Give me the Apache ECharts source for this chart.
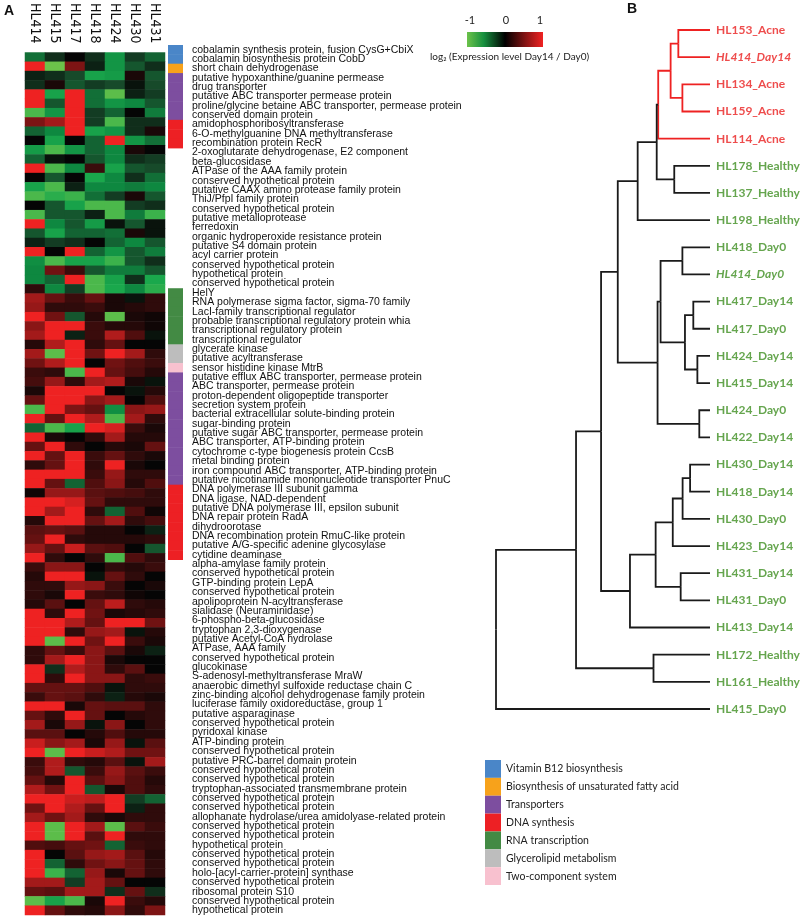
<!DOCTYPE html>
<html><head><meta charset="utf-8">
<script src="https://cdn.jsdelivr.net/npm/echarts@6/dist/echarts.min.js"></script>
<style>html,body{margin:0;padding:0;background:#fff}#c{width:800px;height:919px}</style>
</head><body><div id="c"></div>
<script>
// ---------- DATA ----------
const samples = ['HL414','HL415','HL417','HL418','HL424','HL430','HL431'];
const genes = [
'cobalamin synthesis protein, fusion CysG+CbiX','cobalamin biosynthesis protein CobD','short chain dehydrogenase',
'putative hypoxanthine/guanine permease','drug transporter','putative ABC transporter permease protein',
'proline/glycine betaine ABC transporter, permease protein','conserved domain protein','amidophosphoribosyltransferase',
'6-O-methylguanine DNA methyltransferase','recombination protein RecR','2-oxoglutarate dehydrogenase, E2 component',
'beta-glucosidase','ATPase of the AAA family protein','conserved hypothetical protein',
'putative CAAX amino protease family protein','ThiJ/PfpI family protein','conserved hypothetical protein',
'putative metalloprotease','ferredoxin','organic hydroperoxide resistance protein','putative S4 domain protein',
'acyl carrier protein','conserved hypothetical protein','hypothetical protein','conserved hypothetical protein',
'HelY','RNA polymerase sigma factor, sigma-70 family','LacI-family transcriptional regulator',
'probable transcriptional regulatory protein whia','transcriptional regulatory protein','transcriptional regulator',
'glycerate kinase','putative acyltransferase','sensor histidine kinase MtrB',
'putative efflux ABC transporter, permease protein','ABC transporter, permease protein','proton-dependent oligopeptide transporter',
'secretion system protein','bacterial extracellular solute-binding protein','sugar-binding protein',
'putative sugar ABC transporter, permease protein','ABC transporter, ATP-binding protein','cytochrome c-type biogenesis protein CcsB',
'metal binding protein','iron compound ABC transporter, ATP-binding protein','putative nicotinamide mononucleotide transporter PnuC',
'DNA polymerase III subunit gamma','DNA ligase, NAD-dependent','putative DNA polymerase III, epsilon subunit',
'DNA repair protein RadA','dihydroorotase','DNA recombination protein RmuC-like protein',
'putative A/G-specific adenine glycosylase','cytidine deaminase','alpha-amylase family protein',
'conserved hypothetical protein','GTP-binding protein LepA','conserved hypothetical protein',
'apolipoprotein N-acyltransferase','sialidase (Neuraminidase)','6-phospho-beta-glucosidase',
'tryptophan 2,3-dioxygenase','putative Acetyl-CoA hydrolase','ATPase, AAA family',
'conserved hypothetical protein','glucokinase','S-adenosyl-methyltransferase MraW',
'anaerobic dimethyl sulfoxide reductase chain C','zinc-binding alcohol dehydrogenase family protein','luciferase family oxidoreductase, group 1',
'putative asparaginase','conserved hypothetical protein','pyridoxal kinase','ATP-binding protein',
'conserved hypothetical protein','putative PRC-barrel domain protein','conserved hypothetical protein',
'conserved hypothetical protein','tryptophan-associated transmembrane protein','conserved hypothetical protein',
'conserved hypothetical protein','allophanate hydrolase/urea amidolyase-related protein','conserved hypothetical protein',
'conserved hypothetical protein','hypothetical protein','conserved hypothetical protein','conserved hypothetical protein',
'holo-[acyl-carrier-protein] synthase','conserved hypothetical protein','ribosomal protein S10',
'conserved hypothetical protein','hypothetical protein'
];
// functional group of each row ('' = none)
const rowGroup = [
'B12','B12','FA','TR','TR','TR','TR','TR','DNA','DNA','DNA',
'','','','','','','','','','','','','','','',
'RNA','RNA','RNA','RNA','RNA','RNA','GL','GL','TC',
'TR','TR','TR','TR','TR','TR','TR','TR','TR','TR','TR','TR',
'DNA','DNA','DNA','DNA','DNA','DNA','DNA','DNA',
'','','','','','','','','','','','','','','','','','','','','','','','','','','','','','','','','','','','','',''
];
const groupKeys = ['B12','FA','TR','DNA','RNA','GL','TC'];
const groupNames = ['Vitamin B12 biosynthesis','Biosynthesis of unsaturated fatty acid','Transporters','DNA synthesis','RNA transcription','Glycerolipid metabolism','Two-component system'];
const groupColors = ['#4a86c8','#f7a21b','#7d4e9f','#ed2024','#438a44','#bdbdbd','#f8c1cf'];
// log2(Day14/Day0), one row per gene, columns = samples
const expr = [
[-0.4,-0.15,0,-0.15,-0.6,-0.2,-0.35],
[1,-1,0.55,-0.1,-0.6,-0.3,-0.15],
[-0.1,-0.15,-0.25,-0.7,-0.65,0.1,-0.3],
[-0.15,0.1,-0.3,-0.2,-0.25,-0.05,-0.25],
[1,-0.7,1,-0.4,-0.95,-0.1,-0.2],
[1,-0.3,1,-0.4,-0.6,-0.5,-0.3],
[-0.9,-0.6,1,-0.2,-0.35,0,-0.45],
[0.55,0.7,1,-0.2,-0.9,-0.15,-0.15],
[-0.35,-0.5,1,-0.7,-0.6,-0.15,0.1],
[0,-0.7,0,-0.35,1,-0.6,-0.4],
[-0.65,-0.9,-0.6,-0.35,-0.5,0.1,0],
[-0.35,-0.05,0,-0.3,-0.5,-0.15,-0.2],
[1,-0.9,-0.5,0.25,-0.7,-0.3,-0.25],
[0,-0.3,0,-0.75,-0.5,-0.15,-0.4],
[-0.7,-0.9,-0.1,-0.5,-0.5,-0.45,-0.5],
[-0.9,-0.8,-0.85,-0.4,-0.2,0.1,-0.3],
[0,-0.3,-0.7,-0.9,-0.9,-0.2,-0.15],
[-0.9,-0.3,-0.3,-0.1,-0.9,-0.45,-0.85],
[1,-0.5,-0.3,-0.65,-0.05,-0.3,-0.05],
[-0.3,-0.7,-0.35,-0.35,-0.4,0.1,-0.05],
[-0.1,-0.2,-0.15,0,-0.35,-0.5,-0.3],
[1,0,1,-0.35,-0.6,-0.3,-0.45],
[-0.55,-0.9,-0.7,-0.7,-0.85,-0.3,-0.15],
[-0.5,0.5,0.25,-0.3,-0.45,-0.45,-0.3],
[-0.5,-0.35,1,-0.9,-0.7,-0.15,-0.75],
[0.2,-0.5,-0.2,-0.9,-0.75,-0.5,-0.8],
[0.7,0.45,0.25,0.45,0.1,-0.05,0.2],
[0.65,0.2,0.2,0.25,0.1,0.15,0.2],
[1,0.5,-0.3,0.15,-0.95,0.1,0.05],
[0.6,1,1,0.25,0.15,0.15,0.05],
[0.7,1,-0.1,0.25,0.75,0.35,-0.05],
[0.15,0.75,1,0.2,0.45,0,0],
[0.7,-0.95,1,0.5,1,0.7,0.2],
[0.5,0.75,1,0,0.5,0.35,0.25],
[0.25,0.2,-0.9,1,0.45,0.3,0.15],
[0.3,0.65,0.2,0.7,0.75,0.1,-0.05],
[0.1,1,1,1,0,-0.05,0.15],
[0.45,1,1,0.6,0.7,0,0.35],
[-0.9,1,0.55,0.45,-0.55,0.6,0.65],
[1,0.45,1,0.75,-0.9,0.7,0.2],
[-0.35,-0.9,-0.7,1,0.9,0.25,0.1],
[1,0.1,0,0.2,0.7,0.15,0.15],
[0.45,1,0.2,0,0.15,0.1,0.45],
[1,0.45,1,0.25,0.45,0.2,0.1],
[0.2,0.45,1,0.2,1,0.1,0],
[1,1,1,0.25,0.65,0.2,0.2],
[1,0.45,-0.35,0.35,0.6,0.15,0.35],
[0.05,0.65,0.65,0.4,0.35,0.3,0.2],
[1,1,0.9,0.45,0.2,0.2,0.2],
[1,0.7,1,0.2,-0.35,0.35,0.05],
[0.15,1,1,0.45,0.7,0.2,0.3],
[0.4,0.45,0.4,0.15,0.15,0,-0.1],
[0.45,1,0.2,0.15,0.15,0.15,0.2],
[0.65,0.45,0.85,0.4,0.35,0,-0.3],
[1,0.2,0,0.2,-0.9,0.35,0.2],
[0.25,0.6,0.6,0,0.2,0.15,0.25],
[0.15,1,1,-0.05,0.45,0.2,0],
[0.2,0.2,0.65,0.6,0.25,0,0.1],
[0.2,0.1,1,0.25,0.2,0.05,0],
[0.15,0.4,0,0.45,0.8,0.2,0.15],
[1,0.2,1,0.5,0.1,0.15,0.2],
[1,1,0.75,0.45,1,1,0.5],
[1,1,0.2,0.65,0.7,-0.05,0.15],
[1,-0.95,1,0.5,1,0.25,0.1],
[0.2,0.45,0.25,0.6,0.4,0.1,-0.1],
[0.2,0.7,1,0.6,0.1,0,0],
[1,-0.15,0.75,0.6,0.2,0.4,0],
[1,0.2,1,0.6,0.6,0.2,0.25],
[0.45,0.45,0.45,0.35,-0.05,0.2,0.2],
[0.25,0.45,0.4,0.2,-0.1,0.15,0.1],
[1,1,0.1,0.45,0.4,0.4,0.2],
[0.45,0.2,1,0.45,0,0.15,0.2],
[0.7,0.1,0.65,-0.05,0.6,0,0.2],
[0.4,0.4,0,0.15,0.35,0.15,0.15],
[0.85,0.6,0.7,0.1,0.65,-0.05,0.4],
[1,-0.95,1,0.85,0.75,0.5,0.5],
[0.25,0.75,0.2,0.15,0.4,-0.05,0.7],
[0.3,0.75,-0.3,0.25,0.65,0.4,0.25],
[0.45,0.15,1,0.4,0.6,0.35,0.15],
[0.75,0.5,1,-0.3,0.1,0.35,0.2],
[1,1,0.85,0.8,1,-0.2,-0.35],
[0.5,1,0.75,0.45,1,-0.1,0.2],
[0.7,0.5,0.7,0.2,0.1,0.2,0.2],
[1,-0.95,1,0.7,-0.95,0.4,0.25],
[1,-0.95,1,0.4,1,0.2,0.2],
[0.35,0.3,0.45,0.5,-0.35,0.25,0.2],
[1,0,0.4,0.65,0.7,0.4,0.15],
[1,-0.35,0.2,0.5,0.6,0.45,0.2],
[1,-0.85,-0.35,0.65,0.1,0.45,0.2],
[0.7,0.7,-0.2,0.7,0.45,0,0],
[0.45,0.4,0.7,0.7,-0.15,0.45,-0.15],
[-0.95,-0.7,-0.9,0.1,1,0.25,0.15],
[1,0.45,0.2,0.15,0.6,0.2,0.55]
];
const colorTicks = ['-1','0','1'];
// dendrogram
const leaves = ['HL153_Acne','HL414_Day14','HL134_Acne','HL159_Acne','HL114_Acne','HL178_Healthy','HL137_Healthy','HL198_Healthy',
'HL418_Day0','HL414_Day0','HL417_Day14','HL417_Day0','HL424_Day14','HL415_Day14','HL424_Day0','HL422_Day14',
'HL430_Day14','HL418_Day14','HL430_Day0','HL423_Day14','HL431_Day14','HL431_Day0','HL413_Day14','HL172_Healthy','HL161_Healthy','HL415_Day0'];
const acneLeaves = ['HL153_Acne','HL414_Day14','HL134_Acne','HL159_Acne','HL114_Acne'];
const italicLeaves = ['HL414_Day14','HL414_Day0'];
// [node, childA, childB, height]
const merges = [
['m1','HL153_Acne','HL414_Day14',0.148],
['m2','HL134_Acne','HL159_Acne',0.129],
['m3','m1','m2',0.184],
['m4','m3','HL114_Acne',0.242],
['m5','HL178_Healthy','HL137_Healthy',0.167],
['m6','m4','m5',0.249],
['m7','m6','HL198_Healthy',0.338],
['m8','HL418_Day0','HL414_Day0',0.129],
['m9','HL417_Day14','HL417_Day0',0.078],
['m10','HL424_Day14','HL415_Day14',0.059],
['m11','m9','m10',0.117],
['m12','m8','m11',0.231],
['m13','HL424_Day0','HL422_Day14',0.050],
['m14','m12','m13',0.245],
['m15','m7','m14',0.431],
['m16','HL430_Day14','HL418_Day14',0.093],
['m17','m16','HL430_Day0',0.128],
['m18','m17','HL423_Day14',0.174],
['m19','HL431_Day14','HL431_Day0',0.137],
['m20','m18','m19',0.254],
['m21','m20','HL413_Day14',0.374],
['m22','m15','m21',0.509],
['m23','HL172_Healthy','HL161_Healthy',0.264],
['m24','m22','m23',0.626],
['m25','m24','HL415_Day0',1.0]
];
const acneClade = ['m1','m2','m3','m4'];

// ---------- BUILD ----------
const heatData = [];
expr.forEach((row, r) => row.forEach((v, c) => heatData.push([c, r, v])));
const groupData = [];
rowGroup.forEach((g, r) => { if (g) groupData.push([0, r, groupKeys.indexOf(g)]); });

const pos = {};
leaves.forEach((l, i) => pos[l] = [0, i]);
const links = [];
merges.forEach(([n, a, b, h]) => {
  const ym = (pos[a][1] + pos[b][1]) / 2;
  pos[n] = [h, ym];
  const col = acneClade.includes(n) ? '#ee2222' : '#1a1a1a';
  [a, b].forEach(ch => links.push({coords: [[pos[ch][0], pos[ch][1]], [h, pos[ch][1]], [h, ym]], lineStyle: {color: col}}));
});
const leafData = leaves.map((l, i) => ({
  value: [0, i], name: l,
  label: {color: acneLeaves.includes(l) ? '#ea1f1f' : '#3f8e22', fontStyle: italicLeaves.includes(l) ? 'italic' : 'normal'}
}));

const chart = echarts.init(document.getElementById('c'));
const FF = 'Liberation Sans, Arial, sans-serif';
const FN = '"Liberation Sans Narrow", "Arial Narrow", "DejaVu Sans Condensed", sans-serif';
const graphic = [
  {type: 'text', left: 4, top: 4, style: {text: 'A', font: 'bold 14px ' + FF, fill: '#111'}},
  {type: 'text', left: 627, top: 2, style: {text: 'B', font: 'bold 14px ' + FF, fill: '#111'}},
  {type: 'rect', shape: {x: 467, y: 32, width: 76, height: 15}, style: {fill: new echarts.graphic.LinearGradient(0, 0, 1, 0, [
    {offset: 0, color: '#6cc24a'}, {offset: 0.22, color: '#16903f'}, {offset: 0.5, color: '#000000'}, {offset: 0.78, color: '#8a1414'}, {offset: 1, color: '#f02222'}])}},
  {type: 'text', x: 470, y: 20, style: {text: colorTicks[0], font: '11px Lato, sans-serif', fill: '#222', align: 'center', verticalAlign: 'middle'}},
  {type: 'text', x: 506, y: 20, style: {text: colorTicks[1], font: '11px Lato, sans-serif', fill: '#222', align: 'center', verticalAlign: 'middle'}},
  {type: 'text', x: 540, y: 20, style: {text: colorTicks[2], font: '11px Lato, sans-serif', fill: '#222', align: 'center', verticalAlign: 'middle'}},
  {type: 'text', x: 430, y: 57, style: {text: 'log\u2082 (Expression level Day14 / Day0)', font: '10px Lato, sans-serif', fill: '#222', verticalAlign: 'middle'}}
];
groupNames.forEach((nm, i) => {
  graphic.push({type: 'rect', shape: {x: 485, y: 760 + i * 17.86, width: 16, height: 17.86}, style: {fill: groupColors[i]}});
  graphic.push({type: 'text', x: 506, y: 760 + i * 17.86 + 9, style: {text: nm, font: '10.5px Lato, sans-serif', fill: '#222', verticalAlign: 'middle'}});
});

chart.setOption({
  animation: false,
  backgroundColor: '#fff',
  grid: [
    {left: 25, width: 140, top: 45, height: 870},
    {left: 168, width: 15, top: 45, height: 870},
    {left: 496, width: 214, top: 30, height: 679}
  ],
  xAxis: [
    {gridIndex: 0, type: 'category', data: samples, position: 'top', axisLine: {show: false}, axisTick: {show: false},
     axisLabel: {rotate: 90, margin: 9, fontSize: 14, fontFamily: FN, color: '#111'}},
    {gridIndex: 1, type: 'category', data: ['group'], show: false},
    {gridIndex: 2, type: 'value', min: 0, max: 1, inverse: true, show: false}
  ],
  yAxis: [
    {gridIndex: 0, type: 'category', data: genes, inverse: true, show: false},
    {gridIndex: 1, type: 'category', data: genes, inverse: true, position: 'right', axisLine: {show: false}, axisTick: {show: false},
     axisLabel: {interval: 0, margin: 9, fontSize: 10.5, fontFamily: FF, color: '#111'}},
    {gridIndex: 2, type: 'value', min: 0, max: 25, inverse: true, show: false}
  ],
  visualMap: {type: 'continuous', min: -1, max: 1, seriesIndex: 0, show: false,
    inRange: {color: ['#6cc24a', '#1aa84c', '#0e8840', '#174a2a', '#050505', '#3a0c0c', '#701212', '#b01c1c', '#ee2222']}},
  graphic: graphic,
  series: [
    {type: 'heatmap', xAxisIndex: 0, yAxisIndex: 0, data: heatData, itemStyle: {borderWidth: 0}, emphasis: {disabled: true}},
    {type: 'custom', xAxisIndex: 1, yAxisIndex: 1, data: groupData,
     renderItem: function (params, api) {
       const c = api.coord([api.value(0), api.value(1)]);
       const s = api.size([1, 1]);
       return {type: 'rect', shape: {x: c[0] - s[0] / 2, y: c[1] - s[1] / 2, width: s[0], height: s[1] + 0.5},
               style: {fill: groupColors[api.value(2)]}};
     }},
    {type: 'lines', coordinateSystem: 'cartesian2d', xAxisIndex: 2, yAxisIndex: 2, polyline: true, data: links,
     lineStyle: {width: 1.8, opacity: 1}, silent: true},
    {type: 'scatter', xAxisIndex: 2, yAxisIndex: 2, data: leafData, symbolSize: 0, silent: true,
     label: {show: true, position: 'right', distance: 6, formatter: '{b}', fontWeight: 'bold', fontSize: 12, fontFamily: 'Lato, sans-serif'}}
  ]
});
</script></body></html>
